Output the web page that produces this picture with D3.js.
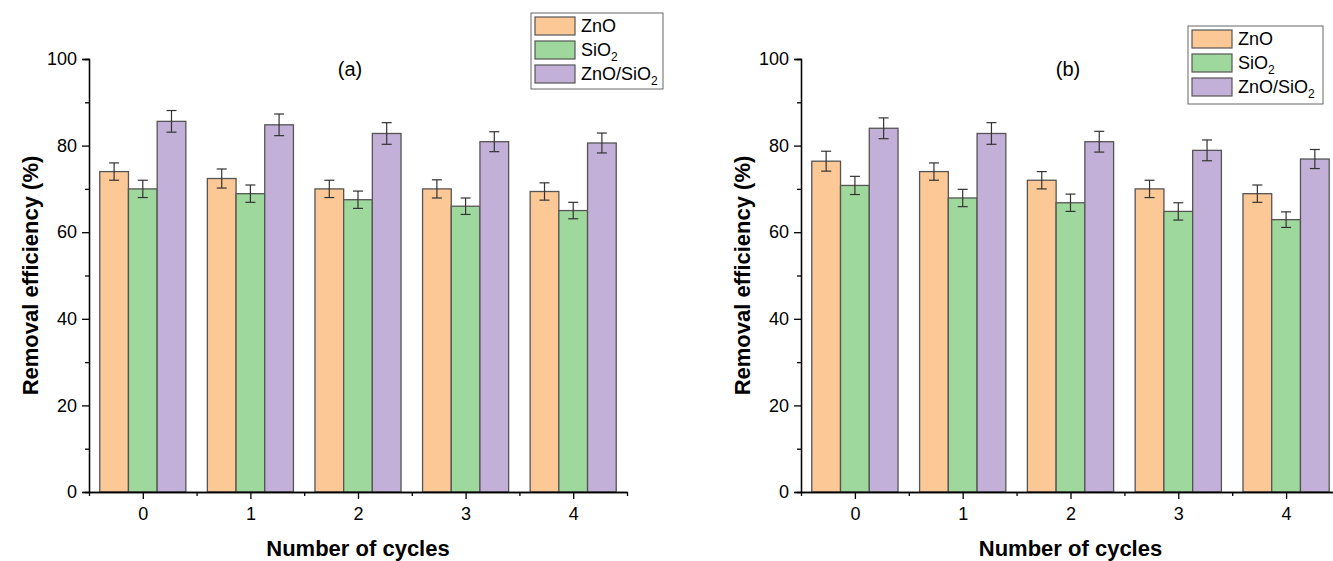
<!DOCTYPE html>
<html>
<head>
<meta charset="utf-8">
<script src="https://cdn.jsdelivr.net/npm/d3@7"></script>
<style>
    body { margin: 0; background: #fff; }
    svg text { font-family: "Liberation Sans", Arial, sans-serif; fill: #000; }
    .axis-title { font-weight: bold; font-size: 22px; }
    .tick-label { font-size: 18px; }
</style>
</head>
<body>
<div id="chart"></div>
<script>
const cycles = [0, 1, 2, 3, 4];
const seriesNames = ["ZnO", "SiO2", "ZnO/SiO2"];
const seriesColors = ["#fcc896", "#9fd89c", "#c2b0d8"];
const yTicks = [0, 20, 40, 60, 80, 100];

// panel (a)
const znoA = [74.0, 72.4, 70.0, 70.0, 69.4];
const sio2A = [70.0, 68.9, 67.5, 66.0, 65.0];
const compA = [85.6, 84.8, 82.8, 80.9, 80.6];
const znoErrA = [2.0, 2.2, 2.0, 2.1, 2.0];
const sio2ErrA = [2.0, 2.0, 2.0, 1.9, 1.9];
const compErrA = [2.5, 2.5, 2.5, 2.3, 2.3];

// panel (b)
const znoB = [76.4, 74.0, 72.0, 70.0, 68.9];
const sio2B = [70.8, 67.9, 66.8, 64.8, 62.9];
const compB = [84.0, 82.8, 80.9, 78.9, 76.9];
const znoErrB = [2.3, 2.0, 2.0, 2.0, 2.0];
const sio2ErrB = [2.1, 2.0, 2.0, 2.0, 1.8];
const compErrB = [2.4, 2.5, 2.4, 2.4, 2.2];

const W = 1333, H = 561;
const svg = d3.select("#chart").append("svg")
    .attr("width", W).attr("height", H);

function drawPanel(opts) {
    const { left, right, tag, tagX, values, errors, legend } = opts;
    const top = 59, bottom = 492;

    const x = d3.scaleLinear().domain([-0.5, 4.5]).range([left, right]);
    const y = d3.scaleLinear().domain([0, 100]).range([bottom, top]);
    const step = x(1) - x(0);
    const group = d3.scaleBand().domain(seriesNames).range([-step * 0.4, step * 0.4]).padding(0);

    const g = svg.append("g");

    // bars + error bars
    seriesNames.forEach((name, si) => {
        const vals = values[si];
        const errs = errors[si];
        g.selectAll(null).data(cycles).enter()
            .append("rect")
            .attr("x", d => x(d) + group(name))
            .attr("y", (d, i) => y(vals[i]))
            .attr("width", group.bandwidth())
            .attr("height", (d, i) => bottom - y(vals[i]))
            .attr("fill", seriesColors[si])
            .attr("stroke", "#555")
            .attr("stroke-width", 1.3);

        const eb = g.selectAll(null).data(cycles).enter().append("g")
            .attr("stroke", "#333").attr("stroke-width", 1.2);
        const cx = d => x(d) + group(name) + group.bandwidth() / 2;
        eb.append("line")
            .attr("x1", cx).attr("x2", cx)
            .attr("y1", (d, i) => y(vals[i] + errs[i]))
            .attr("y2", (d, i) => y(vals[i] - errs[i]));
        eb.append("line")
            .attr("x1", d => cx(d) - 5).attr("x2", d => cx(d) + 5)
            .attr("y1", (d, i) => y(vals[i] + errs[i]))
            .attr("y2", (d, i) => y(vals[i] + errs[i]));
        eb.append("line")
            .attr("x1", d => cx(d) - 5).attr("x2", d => cx(d) + 5)
            .attr("y1", (d, i) => y(vals[i] - errs[i]))
            .attr("y2", (d, i) => y(vals[i] - errs[i]));
    });

    // y axis: major + minor ticks
    const yAxis = svg.append("g").attr("transform", `translate(${left},0)`);
    yAxis.call(d3.axisLeft(y).tickValues(d3.range(10, 100, 20)).tickSize(4).tickFormat(""));
    yAxis.append("g").call(d3.axisLeft(y).tickValues(yTicks).tickSize(7).tickPadding(5).tickFormat(d3.format("d")));
    yAxis.selectAll("path.domain").attr("stroke", "#000").attr("stroke-width", 1.3);
    yAxis.selectAll(".tick line").attr("stroke", "#000").attr("stroke-width", 1.3);
    yAxis.selectAll(".tick text").attr("class", "tick-label").attr("font-size", null).attr("font-family", null);

    // x axis
    const xAxis = svg.append("g").attr("transform", `translate(0,${bottom})`);
    xAxis.call(d3.axisBottom(x).tickValues(d3.range(-0.5, 5, 1)).tickSize(4).tickFormat("").tickSizeOuter(0));
    xAxis.append("g").call(d3.axisBottom(x).tickValues(cycles).tickSize(7).tickPadding(8)
        .tickSizeOuter(0).tickFormat(d3.format("d")));
    xAxis.selectAll("path.domain").attr("stroke", "#000").attr("stroke-width", 1.3);
    xAxis.selectAll(".tick line").attr("stroke", "#000").attr("stroke-width", 1.3);
    xAxis.selectAll(".tick text").attr("class", "tick-label").attr("font-size", null).attr("font-family", null);

    // axis titles
    svg.append("text").attr("class", "axis-title")
        .attr("transform", `translate(${left - 51},${(top + bottom) / 2}) rotate(-90)`)
        .attr("text-anchor", "middle")
        .text("Removal efficiency (%)");
    svg.append("text").attr("class", "axis-title")
        .attr("x", (x(0) + x(4)) / 2).attr("y", 556)
        .attr("text-anchor", "middle")
        .text("Number of cycles");

    // panel tag
    svg.append("text").attr("x", tagX).attr("y", 76)
        .attr("text-anchor", "middle").attr("font-size", 20)
        .text(tag);

    // legend
    const lg = svg.append("g").attr("transform", `translate(${legend.x},${legend.y})`);
    lg.append("rect").attr("width", legend.w).attr("height", legend.h)
        .attr("fill", "#fff").attr("stroke", "#666").attr("stroke-width", 1);
    seriesNames.forEach((name, i) => {
        const row = lg.append("g").attr("transform", `translate(4,${4 + i * 24})`);
        row.append("rect").attr("width", 40).attr("height", 18)
            .attr("fill", seriesColors[i]).attr("stroke", "#555").attr("stroke-width", 1.2);
        const t = row.append("text").attr("x", 46).attr("y", 15).attr("font-size", 18);
        const parts = name.split("2");
        parts.forEach((p, k) => {
            t.append("tspan").text(p);
            if (k < parts.length - 1) {
                t.append("tspan").attr("font-size", 12).attr("dy", 5).text("2");
                t.append("tspan").attr("dy", -5).text("");
            }
        });
    });
}

drawPanel({
    left: 89, right: 627, tag: "(a)", tagX: 350,
    values: [znoA, sio2A, compA], errors: [znoErrA, sio2ErrA, compErrA],
    legend: { x: 531, y: 13, w: 132, h: 76 }
});
drawPanel({
    left: 801, right: 1340, tag: "(b)", tagX: 1068,
    values: [znoB, sio2B, compB], errors: [znoErrB, sio2ErrB, compErrB],
    legend: { x: 1188, y: 26, w: 135, h: 78 }
});
</script>
</body>
</html>
